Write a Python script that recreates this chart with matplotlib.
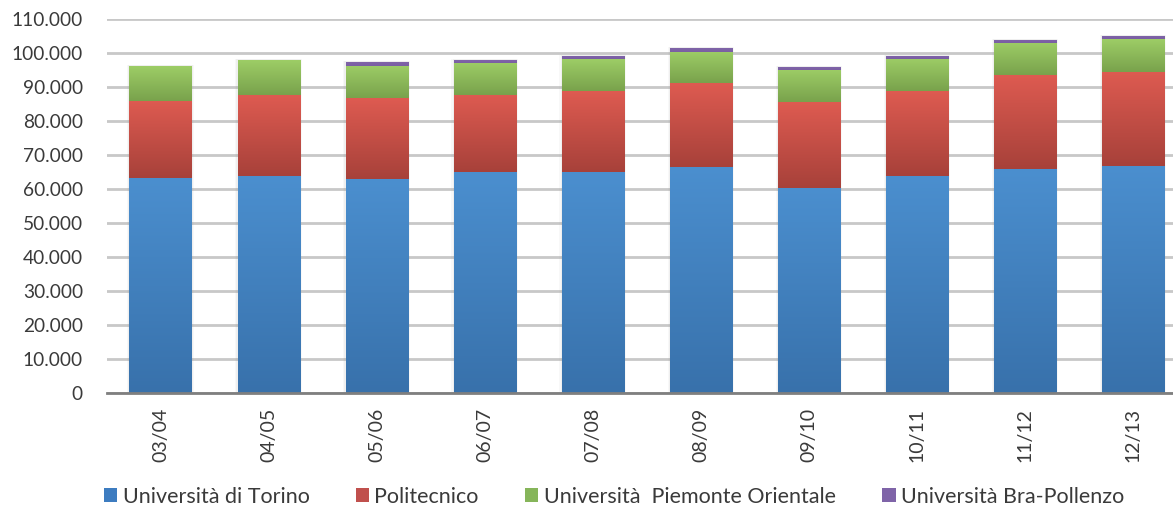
import numpy as np
import matplotlib.pyplot as plt
from matplotlib.colors import LinearSegmentedColormap
from matplotlib.patches import Patch, Rectangle
from matplotlib.ticker import FuncFormatter, MultipleLocator

# Iscritti per ateneo, anni accademici 2003/04 - 2012/13
years = ["03/04", "04/05", "05/06", "06/07", "07/08",
         "08/09", "09/10", "10/11", "11/12", "12/13"]
torino = [63200, 63900, 62900, 64900, 65100, 66600, 60400, 63900, 65800, 66900]
politecnico = [22800, 23800, 23800, 22800, 23800, 24500, 25100, 24900, 27700, 27700]
piemonte = [10100, 10200, 9600, 9500, 9400, 9300, 9550, 9500, 9500, 9700]
bra = [0, 0, 1000, 800, 900, 1000, 800, 900, 900, 900]

series_names = ["Università di Torino", "Politecnico",
                "Università  Piemonte Orientale", "Università Bra-Pollenzo"]
series_values = [torino, politecnico, piemonte, bra]
# (top colour, bottom colour) of each segment's vertical gradient
series_colors = [("#4b8fcf", "#3871ab"),
                 ("#de5b51", "#a7413a"),
                 ("#9dcd66", "#79a24c"),
                 ("#8064a8", "#7a5fa3")]
legend_colors = ["#3d7cc0", "#c0504d", "#86b55a", "#7f64a8"]

plt.rcParams["font.family"] = ["Lato", "DejaVu Sans"]
text_color = "#3a3a3a"

fig = plt.figure(figsize=(11.73, 5.09), dpi=100)
ax = fig.add_axes([106.5 / 1173, (509 - 392.7) / 509, 1080.5 / 1173, 373.4 / 509])

x = np.arange(len(years))
width = 0.575
bottom = np.zeros(len(years))

# soft shadow behind the stacks
totals = np.sum(series_values, axis=0)
for xi, tot in zip(x, totals):
    for grow, alpha in [(0.02, 0.05), (0.01, 0.07)]:
        ax.add_patch(Rectangle((xi - width / 2 - grow, 0), width + 2 * grow, tot + 300,
                               facecolor="#808080", alpha=alpha, edgecolor="none",
                               zorder=1.5))

grad = np.linspace(0, 1, 256).reshape(-1, 1)
for vals, (c_top, c_bot) in zip(series_values, series_colors):
    vals = np.asarray(vals, dtype=float)
    cmap = LinearSegmentedColormap.from_list("g", [c_bot, c_top])
    bars = ax.bar(x, vals, width, bottom=bottom, color="none",
                  edgecolor="none", zorder=2)
    for rect, v in zip(bars, vals):
        if v <= 0:
            continue
        x0, y0 = rect.get_x(), rect.get_y()
        im = ax.imshow(grad, extent=[x0, x0 + rect.get_width(), y0, y0 + v],
                       origin="lower", aspect="auto", cmap=cmap, zorder=2.5,
                       interpolation="bilinear")
        im.set_clip_path(rect)
    bottom += vals

ax.set_xlim(-0.5, 9.5)
ax.set_ylim(0, 110000)
ax.set_aspect("auto")

ax.yaxis.set_major_locator(MultipleLocator(10000))
ax.yaxis.set_major_formatter(FuncFormatter(lambda v, p: f"{int(v):,}".replace(",", ".")))
ax.grid(axis="y", color="#c8c8c8", linewidth=2, zorder=0)
ax.set_axisbelow(True)

for s in ["top", "right", "left"]:
    ax.spines[s].set_visible(False)
ax.spines["bottom"].set_color("#7f7f7f")
ax.spines["bottom"].set_linewidth(2)
ax.spines["bottom"].set_zorder(3)

ax.set_xticks(x)
ax.set_xticklabels(years, rotation=90)
ax.tick_params(axis="both", length=0, colors=text_color)
ax.tick_params(axis="y", pad=17, labelsize=13.8)
ax.tick_params(axis="x", pad=11, labelsize=14)

handles = [Patch(facecolor=c, edgecolor="none") for c in legend_colors]
fig.legend(handles, series_names, loc="center", bbox_to_anchor=(614 / 1173, 1 - 497 / 509),
           ncol=4, frameon=False, fontsize=15.5, handlelength=0.62, handleheight=0.62,
           handletextpad=0.25, columnspacing=2.15, labelcolor=text_color, borderpad=0)

fig.savefig("out.png", dpi=100)
